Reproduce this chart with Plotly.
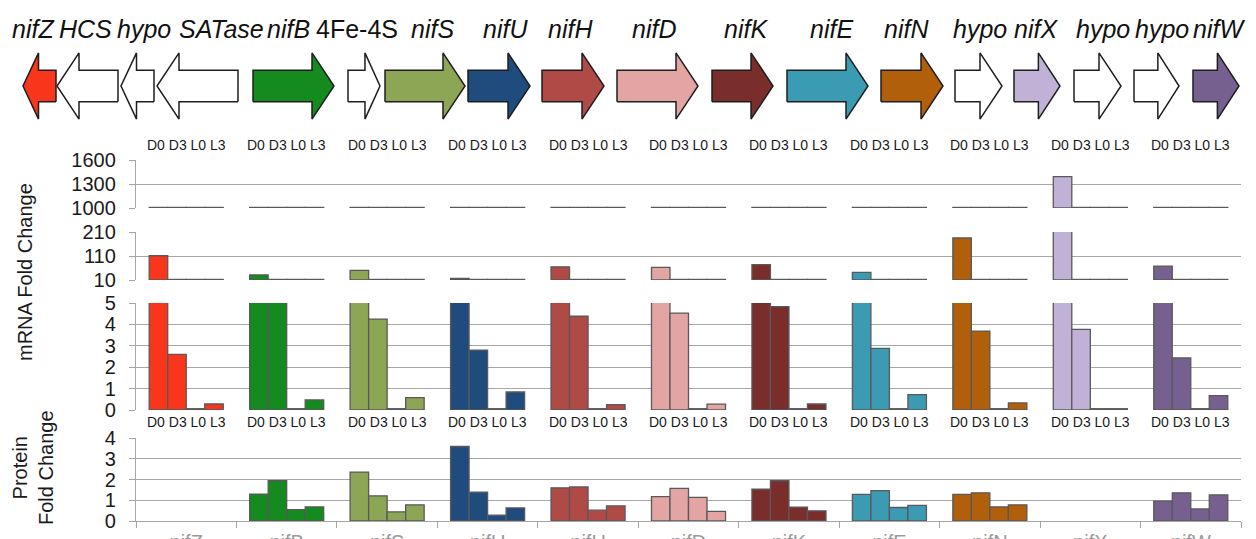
import numpy as np
import plotly.graph_objects as go

# ---------------------------------------------------------------- data
genes = ["nifZ", "nifB", "nifS", "nifU", "nifH", "nifD", "nifK", "nifE", "nifN", "nifX", "nifW"]
conditions = ["D0", "D3", "L0", "L3"]

mrna_D0 = [111, 31, 50, 17, 65, 63, 74, 42, 185, 1391, 68]
mrna_D3 = [2.6, 6.8, 4.25, 2.8, 4.38, 4.53, 4.83, 2.88, 3.69, 3.77, 2.43]
mrna_L0 = [0.05, 0.05, 0.05, 0.05, 0.05, 0.05, 0.05, 0.05, 0.05, 0.05, 0.05]
mrna_L3 = [0.28, 0.47, 0.58, 0.84, 0.25, 0.27, 0.28, 0.72, 0.33, 0.05, 0.67]

prot_D0 = [None, 1.30, 2.36, 3.59, 1.60, 1.17, 1.54, 1.28, 1.28, None, 0.96]
prot_D3 = [None, 1.94, 1.21, 1.39, 1.64, 1.57, 1.94, 1.46, 1.36, None, 1.36]
prot_L0 = [None, 0.55, 0.44, 0.28, 0.52, 1.14, 0.67, 0.65, 0.68, None, 0.58]
prot_L3 = [None, 0.68, 0.78, 0.63, 0.73, 0.46, 0.49, 0.75, 0.78, None, 1.26]

# gene cluster map (map units), strand +1 = forward
map_names = ["nifZ", "HCS", "hypo", "SATase", "nifB", "4Fe-4S", "nifS", "nifU", "nifH",
             "nifD", "nifK", "nifE", "nifN", "hypo", "nifX", "hypo", "hypo", "nifW"]
map_start = [23, 57, 121, 157, 253, 348, 385, 468, 542, 617, 712, 787, 881, 955, 1014, 1074, 1134, 1193]
map_end = [56, 118, 154, 238, 334, 380, 465, 530, 604, 698, 773, 868, 943, 1002, 1060, 1121, 1179, 1239]
map_strand = [-1, -1, -1, -1, 1, 1, 1, 1, 1, 1, 1, 1, 1, 1, 1, 1, 1, 1]

# ---------------------------------------------------------------- style
W, H = 1256, 539
FONT = "Liberation Sans, Arial, sans-serif"
GRID = "#a6a6a6"
OUTLINE = "#595959"
gene_colors = {
    "nifZ": "#f9351b", "nifB": "#148a1f", "nifS": "#8ca655", "nifU": "#1f4c7c",
    "nifH": "#b04a47", "nifD": "#e3a5a3", "nifK": "#7a2e2c", "nifE": "#3a9bb3",
    "nifN": "#b25f0c", "nifX": "#c0b2d6", "nifW": "#76608f",
}
bar_colors = [gene_colors[g] for g in genes]

# label anchors along the map (packed so neighbouring names do not collide)
label_x = [33, 85, 144, 221, 288, 357, 432, 505, 570, 654, 746, 831, 906, 980, 1036, 1103, 1162, 1219]


def ypaper(px):
    return 1 - px / H


X_DOMAIN = [136 / W, 1241 / W]

# broken mRNA axis: (range, tick values, pixel top, pixel bottom)
mrna_panels = [
    ((1000, 1600), [1000, 1300, 1600], 160, 208),
    ((10, 210), [10, 110, 210], 232, 280),
    ((0, 5), [0, 1, 2, 3, 4, 5], 303, 410),
]
prot_panel = ((0, 4), [0, 1, 2, 3, 4], 438, 521)

fig = go.Figure()

mrna = [mrna_D0, mrna_D3, mrna_L0, mrna_L3]
prot = [prot_D0, prot_D3, prot_L0, prot_L3]


def add_bars(series, lo, hi, axn):
    # values below a panel's floor sit on it as a flat bar
    eps = 0.012 * (hi - lo)
    for cond, vals in zip(conditions, series):
        v = np.array([np.nan if a is None else a for a in vals], dtype=float)
        shown = np.where(np.isnan(v), np.nan, np.maximum(v, lo + eps) - lo)
        fig.add_trace(go.Bar(
            x=genes, y=shown, base=lo, name=cond, offsetgroup=cond,
            marker=dict(color=bar_colors, line=dict(color=OUTLINE, width=1.3)),
            xaxis=f"x{axn}", yaxis=f"y{axn}", showlegend=False,
        ))


for k, ((lo, hi), _, _, _) in enumerate(mrna_panels):
    add_bars(mrna, lo, hi, k + 1)
add_bars(prot, prot_panel[0][0], prot_panel[0][1], 4)

# gene arrows
HEAD, BODY = 0.92, 0.44
for name, s, e, st in zip(map_names, map_start, map_end, map_strand):
    hl = min(22, 0.47 * (e - s))
    if st > 0:
        xs = [s, e - hl, e - hl, e, e - hl, e - hl, s, s]
    else:
        xs = [e, s + hl, s + hl, s, s + hl, s + hl, e, e]
    ys = [-BODY, -BODY, -HEAD, 0, HEAD, BODY, BODY, -BODY]
    fig.add_trace(go.Scatter(
        x=xs, y=ys, mode="lines", fill="toself",
        fillcolor=gene_colors.get(name, "#ffffff"),
        line=dict(color="#1e1e1e", width=1.5),
        xaxis="x5", yaxis="y5", showlegend=False, hoverinfo="skip",
    ))

yax_common = dict(
    showgrid=True, gridcolor=GRID, gridwidth=1.4, showline=True, linecolor=GRID,
    linewidth=1.4, ticks="outside", ticklen=6, tickcolor=GRID, tickwidth=1.4,
    tickfont=dict(size=20, color="#1a1a1a", family=FONT), zeroline=False,
    tickmode="array", fixedrange=True, automargin=False, ticklabelstandoff=9,
)

layout = dict(
    width=W, height=H, margin=dict(l=0, r=0, t=0, b=0, autoexpand=False),
    paper_bgcolor="white", plot_bgcolor="white",
    barmode="group", bargap=0.263, bargroupgap=0,
    font=dict(family=FONT, color="#1a1a1a"),
)

for k, ((lo, hi), tv, top, bot) in enumerate(mrna_panels + [prot_panel]):
    n = k + 1
    sfx = "" if n == 1 else str(n)
    layout[f"yaxis{sfx}"] = dict(yax_common, range=[lo, hi], tickvals=tv,
                                 domain=[ypaper(bot), ypaper(top)], anchor=f"x{n}")
    if n < 4:
        layout[f"xaxis{sfx}"] = dict(domain=X_DOMAIN, range=[-0.5, 10.5], visible=False,
                                     anchor=f"y{n}", fixedrange=True, automargin=False,
                                     categoryorder="array", categoryarray=genes)
    else:
        layout[f"xaxis{sfx}"] = dict(
            domain=X_DOMAIN, range=[-0.5, 10.5], anchor=f"y{n}", fixedrange=True,
            categoryorder="array", categoryarray=genes, automargin=False,
            showline=True, linecolor=GRID, linewidth=1.4, showgrid=False,
            ticks="outside", tickson="boundaries", ticklen=6, tickcolor=GRID, tickwidth=1.4,
            tickfont=dict(size=20, color="#9a9a9a", family=FONT), ticklabelstandoff=3,
        )

layout["xaxis5"] = dict(domain=[0, 1], range=[0, W], visible=False, anchor="y5",
                        fixedrange=True, automargin=False)
layout["yaxis5"] = dict(domain=[ypaper(122), ypaper(50)], range=[-1, 1], visible=False,
                        anchor="x5", fixedrange=True, automargin=False)

annotations = []
for nm, lx in zip(map_names, label_x):
    txt = nm if nm == "4Fe-4S" else f"<i>{nm}</i>"
    annotations.append(dict(x=lx, y=ypaper(29), xref="x5", yref="paper", text=txt,
                            showarrow=False, font=dict(size=25, family=FONT, color="#111"),
                            xanchor="center", yanchor="middle"))
cond_label = " ".join(conditions)
for g in genes:
    for xr, py in (("x", 145), ("x4", 422)):
        annotations.append(dict(x=g, y=ypaper(py), xref=xr, yref="paper", text=cond_label,
                                showarrow=False, font=dict(size=14, family=FONT, color="#1a1a1a"),
                                xanchor="center", yanchor="middle"))
annotations.append(dict(x=25 / W, y=ypaper(272), xref="paper", yref="paper",
                        text="mRNA Fold Change", textangle=-90, showarrow=False,
                        xanchor="center", yanchor="middle",
                        font=dict(size=20, family=FONT, color="#1a1a1a")))
annotations.append(dict(x=33 / W, y=ypaper(468), xref="paper", yref="paper",
                        text="Protein<br>Fold Change", textangle=-90, showarrow=False,
                        xanchor="center", yanchor="middle",
                        font=dict(size=20, family=FONT, color="#1a1a1a")))
layout["annotations"] = annotations

fig.update_layout(layout)
fig.write_html("out.html")
